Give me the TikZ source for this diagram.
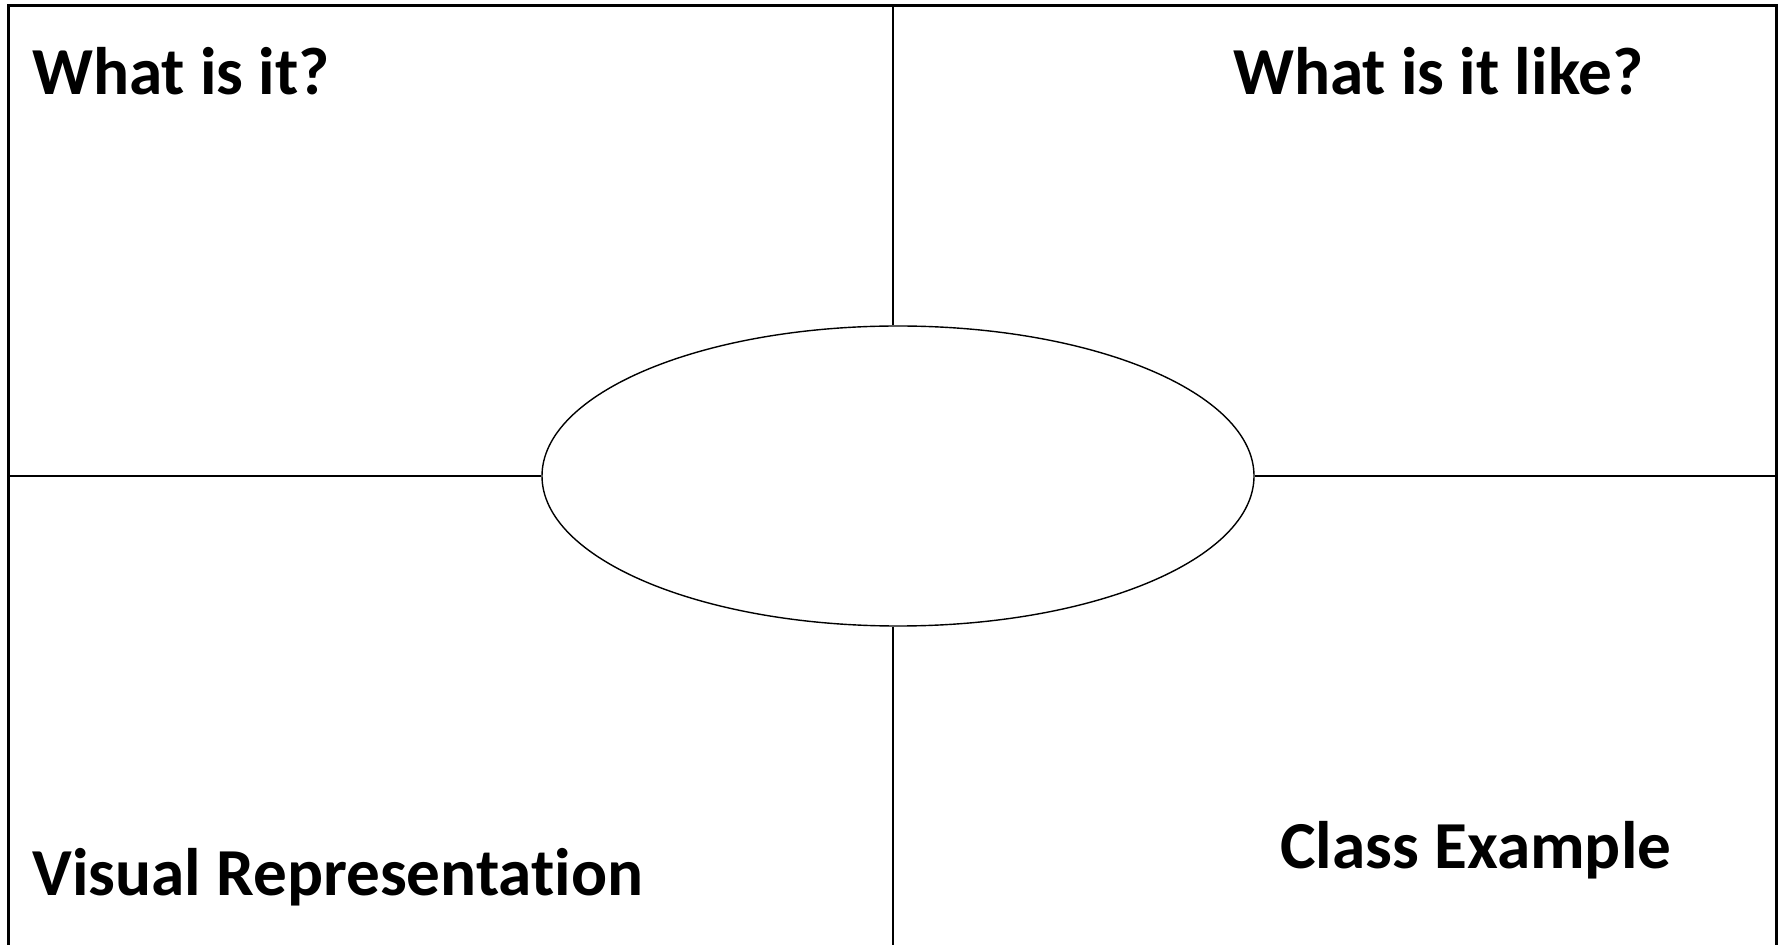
\documentclass[tikz,border=0pt]{standalone}
\usepackage{fontspec}
\setmainfont[RawFeature=-liga]{Carlito}
\usepackage{tikz}
\usetikzlibrary{shapes.geometric, positioning}

\begin{document}
\begin{tikzpicture}[x=0.5pt, y=-0.5pt,
      frame/.style={line width=1.5pt, black},
      rule/.style={line width=1.1pt, black},
      hub/.style={ellipse, draw, line width=0.7pt, minimum width=356pt, minimum height=150pt, inner sep=0pt},
      head/.style={anchor=base west, inner sep=0pt, font=\fontsize{33.6}{40}\selectfont\bfseries}]
    \useasboundingbox (0,0) rectangle (1787,945);
    \draw[frame] (8,945) -- (8,6) -- (1776,6) -- (1776,945);
    \node[hub] (core) at (898,476) {};
    \coordinate (top) at (893,6); \coordinate (bot) at (893,945);
    \coordinate (lft) at (8,476); \coordinate (rgt) at (1776,476);
    \draw[rule] (top) -- (top|-core.north); \draw[rule] (bot|-core.south) -- (bot);
    \draw[rule] (lft) -- (core.west); \draw[rule] (core.east) -- (rgt);
    \node[head] (what) at (32,95) {What is it?};
    \node[head] (like) at (1233,95) {What is it like?};
    \node[head] (visual) at (32,895) {Visual Representation};
    \node[head] (class) at (1280,868) {Class Example};
  \end{tikzpicture}
\end{document}
